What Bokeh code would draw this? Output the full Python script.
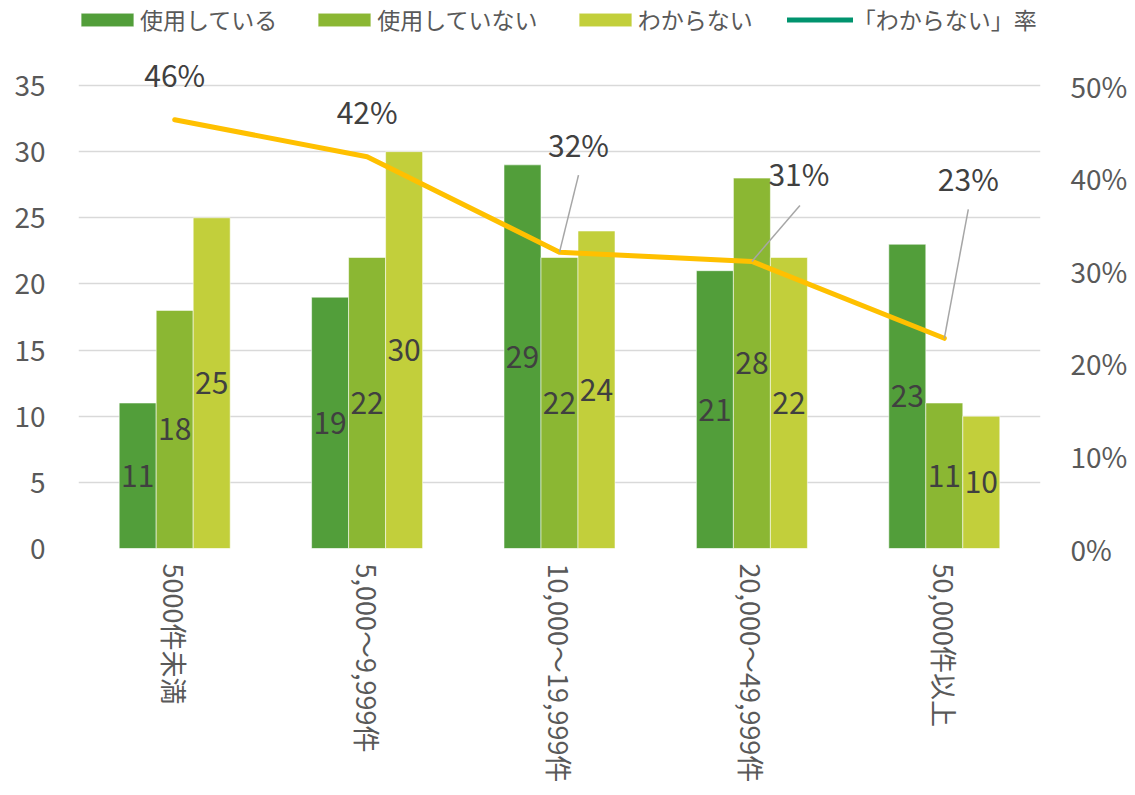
import math
from bokeh.plotting import figure
from bokeh.models import (Range1d, LinearAxis, FixedTicker, NumeralTickFormatter,
                          Legend, LegendItem, ColumnDataSource)
from bokeh.transform import dodge
from bokeh.core.properties import value
from bokeh.embed import file_html
from bokeh.resources import INLINE

# ---------------- data ----------------
categories = ["5000件未満", "5,000～9,999件", "10,000～19,999件", "20,000～49,999件", "50,000件以上"]
using = [11, 19, 29, 21, 23]          # 使用している
not_using = [18, 22, 22, 28, 11]      # 使用していない
unknown = [25, 30, 24, 22, 10]        # わからない
unknown_rate = [0.463, 0.423, 0.320, 0.310, 0.227]   # 「わからない」率
left_ticks = [0, 5, 10, 15, 20, 25, 30, 35]
right_ticks = [0, 0.1, 0.2, 0.3, 0.4, 0.5]

# ---------------- layout ----------------
W, H = 1135, 795
FL, FR, FT, FB = 78, 1040, 0, 548
Y35 = 85                                   # screen y of value 35 / 50%
px_per_unit = (FB - Y35) / 35.0
y_top = (FB - FT) / px_per_unit
pct_top = 0.5 * (FB - FT) / (FB - Y35)
px_per_pct = (FB - Y35) / 0.5
px_per_cat = (FR - FL) / 5.0

FONT = "Noto Sans CJK JP"
C1, C2, C3 = "#529E3A", "#8BB733", "#C2CF3B"
LINE_C = "#FFC000"
LEG_LINE_C = "#00936E"
TICK_C = "#595959"
LABEL_C = "#404040"
GRID_C = "#D9D9D9"

p = figure(width=W, height=H, x_range=Range1d(-0.5, 4.5), y_range=Range1d(0, y_top),
           output_backend="svg", toolbar_location=None,
           min_border_left=FL, min_border_right=W - FR,
           min_border_top=FT, min_border_bottom=H - FB)
p.outline_line_color = None
p.background_fill_color = "white"
p.border_fill_color = "white"
p.extra_y_ranges = {"pct": Range1d(0, pct_top)}

# axes
p.xgrid.visible = False
p.ygrid.ticker = FixedTicker(ticks=left_ticks)
p.ygrid.grid_line_color = GRID_C
p.ygrid.grid_line_width = 1.5

yax = p.yaxis[0]
yax.ticker = FixedTicker(ticks=left_ticks)
yax.axis_line_color = None
yax.major_tick_line_color = None
yax.minor_tick_line_color = None
yax.major_tick_out = 0
yax.major_label_standoff = 33
yax.major_label_text_font = FONT
yax.major_label_text_font_size = "28px"
yax.major_label_text_color = TICK_C

xax = p.xaxis[0]
xax.ticker = FixedTicker(ticks=list(range(len(categories))))
xax.major_label_overrides = {i: c for i, c in enumerate(categories)}
xax.major_label_orientation = -math.pi / 2
xax.axis_line_color = None
xax.major_tick_line_color = None
xax.minor_tick_line_color = None
xax.major_tick_out = 0
xax.major_label_standoff = 15
xax.major_label_text_font = FONT
xax.major_label_text_font_size = "27px"
xax.major_label_text_color = TICK_C

rax = LinearAxis(y_range_name="pct", ticker=FixedTicker(ticks=right_ticks),
                 formatter=NumeralTickFormatter(format="0%"))
rax.axis_line_color = None
rax.major_tick_line_color = None
rax.minor_tick_line_color = None
rax.major_tick_out = 0
rax.major_label_standoff = 30
rax.major_label_text_font = FONT
rax.major_label_text_font_size = "28px"
rax.major_label_text_color = TICK_C
p.add_layout(rax, "right")

# bars
bw = 37.0 / px_per_cat
src = ColumnDataSource(dict(
    x=list(range(len(categories))),
    using=using, not_using=not_using, unknown=unknown,
    using_mid=[v / 2 for v in using],
    not_using_mid=[v / 2 for v in not_using],
    unknown_mid=[v / 2 for v in unknown],
    using_lbl=[str(v) for v in using],
    not_using_lbl=[str(v) for v in not_using],
    unknown_lbl=[str(v) for v in unknown],
))

renderers = []
for off, col, color in [(-bw, "using", C1), (0, "not_using", C2), (bw, "unknown", C3)]:
    r = p.vbar(x=dodge("x", off), top=col, width=bw, bottom=0, source=src,
               fill_color=color, line_color="white", line_alpha=0.55, line_width=1)
    renderers.append(r)
    p.text(x=dodge("x", off), y=col + "_mid", text=col + "_lbl", source=src,
           text_align="center", text_baseline="middle",
           text_font=value(FONT), text_font_size="30px", text_color=LABEL_C)

# rate line
x_idx = list(range(len(categories)))
p.line(x=x_idx, y=unknown_rate, y_range_name="pct", line_color=LINE_C, line_width=5,
       line_join="round", line_cap="round")

# rate labels (offsets are layout, in pixels)
lbl_dx = [0, 0, 19, 47, 24]
lbl_dy = [-46, -46, -108, -88, -160]
rate_src = ColumnDataSource(dict(
    x=x_idx, y=unknown_rate,
    txt=[f"{round(v * 100)}%" for v in unknown_rate],
    dx=lbl_dx, dy=lbl_dy))
p.text(x="x", y="y", text="txt", x_offset="dx", y_offset="dy", source=rate_src,
       y_range_name="pct", text_align="center", text_baseline="middle",
       text_font=value(FONT), text_font_size="30px", text_color=LABEL_C)

# leader lines for labels away from their points
lead_idx = [2, 3, 4]
lead_dx = [19, 48, 24]
lead_dy = [77, 56, 129]
lx0 = [x_idx[i] + dx / px_per_cat for i, dx in zip(lead_idx, lead_dx)]
ly0 = [unknown_rate[i] + dy / px_per_pct for i, dy in zip(lead_idx, lead_dy)]
lx1 = [x_idx[i] for i in lead_idx]
ly1 = [unknown_rate[i] for i in lead_idx]
p.segment(x0=lx0, y0=ly0, x1=lx1, y1=ly1, y_range_name="pct",
          line_color="#A6A6A6", line_width=1.5)

# legend (line symbol in legend is teal as in the reference)
nan = float("nan")
leg_line = p.line(x=[nan], y=[nan], line_color=LEG_LINE_C, line_width=5, line_cap="round")
legend = Legend(items=[
    LegendItem(label="使用している", renderers=[renderers[0]]),
    LegendItem(label="使用していない", renderers=[renderers[1]]),
    LegendItem(label="わからない", renderers=[renderers[2]]),
    LegendItem(label="「わからない」率", renderers=[leg_line]),
], orientation="horizontal", location=(-4, FB - 36),
    glyph_width=66, glyph_height=17, label_standoff=-3, spacing=34,
    padding=0, margin=0, border_line_color=None, background_fill_alpha=0,
    label_text_font=FONT, label_text_font_size="23px", label_text_color=TICK_C)
p.add_layout(legend)

open("out.html", "w").write(file_html(p, INLINE))
